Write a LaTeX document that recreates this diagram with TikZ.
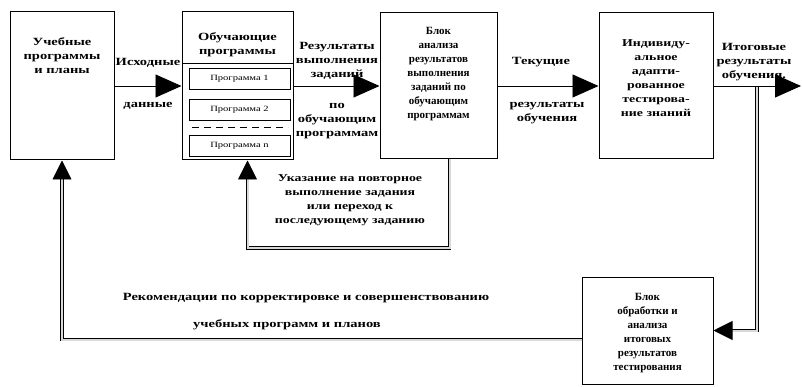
\documentclass[tikz,border=0pt]{standalone}
\usepackage{fontspec}
\setmainfont{Liberation Serif}
\newfontfamily\widefont[FakeStretch=1.32]{Liberation Serif}
\usetikzlibrary{arrows.meta}
\usetikzlibrary{positioning}

\begin{document}
\begin{tikzpicture}[x=1pt,y=-1pt,
    block node/.style={draw,line width=1pt,inner sep=0pt},
    prog node/.style={draw,line width=0.9pt,minimum width=101pt,minimum height=21pt,inner sep=0pt,font=\widefont\fontsize{8}{9}\selectfont},
    text node/.style={align=center,inner sep=1pt,font=\widefont\bfseries\fontsize{11}{14}\selectfont},
    narrow text/.style={align=center,inner sep=1pt,font=\bfseries\fontsize{11}{14}\selectfont},
    link/.style={-{Triangle[length=26pt,width=23pt]},double=gray!30,double distance=2pt,line width=0.9pt},
    back link/.style={link,-{Triangle[length=19pt,width=19pt]}}]
   \useasboundingbox (0,0) rectangle (802,387);
   % blocks
   \node[block node,minimum width=104pt,minimum height=148pt] (plans) at (62,86) {};
   \node[block node,minimum width=111pt,minimum height=148pt] (trainer) at (237.5,86) {};
   \node[block node,minimum width=117pt,minimum height=146pt] (analysis) at (438.5,86) {};
   \node[block node,minimum width=114pt,minimum height=146pt] (testing) at (656,86) {};
   \node[block node,minimum width=131pt,minimum height=107pt] (final) at (647.5,330.5) {};
   \node[text node] (plans text) at (62,56) {Учебные\\программы\\и планы};
   \node[text node] (trainer text) at (237.5,45) {Обучающие\\программы};
   \node[narrow text] (analysis text) at (438.5,74) {Блок\\анализа\\результатов\\выполнения\\заданий по\\обучающим\\программам};
   \node[text node,font=\widefont\bfseries\fontsize{10.5}{14}\selectfont] (testing text) at (656,78) {Индивиду-\\альное\\адапти-\\рованное\\тестирова-\\ние знаний};
   \node[narrow text] (final text) at (647.5,333) {Блок\\обработки и\\анализа\\итоговых\\результатов\\тестирования};
   % programs inside the trainer block
   \coordinate (sep) at (0,63);
   \draw[line width=0.9pt] (trainer.west |- sep) -- (trainer.east |- sep);
   \node[prog node] (prog1) at (239.5,78.5) {Программа 1};
   \node[prog node] (prog2) at (239.5,110) {Программа 2};
   \node[prog node] (progn) at (239.5,146) {Программа n};
   \coordinate (dash l) at (192,128);
   \coordinate (dash r) at (288,128);
   \draw[line width=1pt,dash pattern=on 7pt off 5pt] (dash l) -- (dash r);
   % connectors
   \coordinate (out) at (801,86);
   \coordinate (tap) at (757,86);
   \coordinate (turn) at (247.5,248);
   \path[link] (plans) edge (trainer);
   \path[link] (trainer) edge (analysis);
   \path[link] (analysis) edge (testing);
   \draw[back link] (tap) |- (final.east);
   \path[link] (testing) edge (out);
   \draw[back link] ([yshift=-9pt]final.west) -| (plans.south);
   \draw[back link] ([xshift=11pt]analysis.south) |- (turn) -- ([xshift=10pt]trainer.south);
   % labels
   \node[text node] (src top) at (148,63) {Исходные};
   \node[text node] (src bot) at (148,106) {данные};
   \node[text node] (res top) at (337,61) {Результаты\\выполнения\\заданий};
   \node[text node] (res bot) at (337,121) {по\\обучающим\\программам};
   \node[text node] (cur top) at (541,62) {Текущие};
   \node[text node] (cur bot) at (547,113) {результаты\\обучения};
   \node[text node] (fin lbl) at (754,62) {Итоговые\\результаты\\обучения.};
   \node[text node,font=\widefont\bfseries\fontsize{10.5}{14}\selectfont] (repeat lbl) at (350,200) {Указание на повторное\\выполнение задания\\или переход к\\последующему заданию};
   \node[text node] (rec top) at (306,298) {Рекомендации по корректировке и совершенствованию};
   \node[text node] (rec bot) at (287,325) {учебных программ и планов};
\end{tikzpicture}
\end{document}
